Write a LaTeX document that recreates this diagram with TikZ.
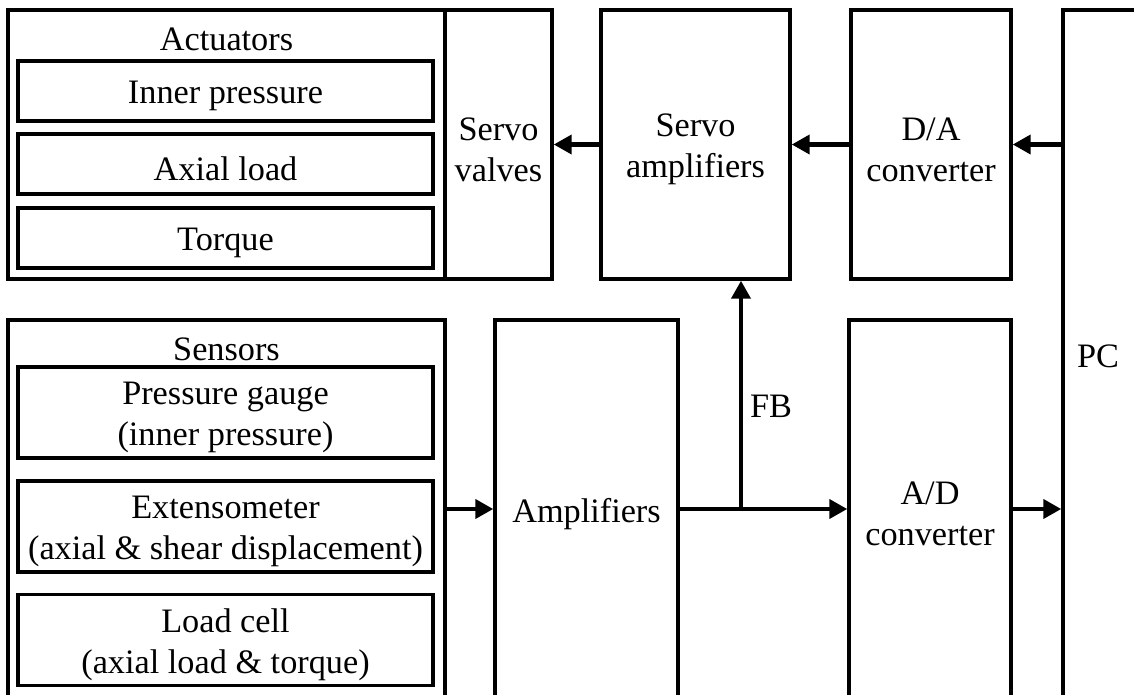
\documentclass[tikz,border=0pt]{standalone}
\usepackage{fontspec}
\setmainfont{Liberation Serif}
\usetikzlibrary{arrows.meta}

\begin{document}
\begin{tikzpicture}[x=0.02cm, y=-0.02cm,
		box/.style={draw, line width=2pt, inner sep=0pt},
		lbl/.style={inner sep=0pt, align=center},
		txt/.style={lbl, yshift=-0.1cm},
		arr/.style={line width=2.3pt, -{Triangle[length=0.36cm, width=0.38cm]}}]
			\useasboundingbox (0,0) rectangle (1134,694);
			\clip (0,0) rectangle (1134,694);
			\fontsize{19.5}{23.5}\selectfont
			% actuator side
			\node[box, minimum width=8.74cm, minimum height=5.38cm] (act) at (226.5,144.5) {};
			\node[lbl] (actlbl) at (226.5,39) {Actuators};
			\node[box, minimum width=8.3cm, minimum height=1.2cm] (ip) at (225.5,91) {};
			\node[box, minimum width=8.3cm, minimum height=1.2cm] (al) at (225.5,164) {};
			\node[box, minimum width=8.3cm, minimum height=1.2cm] (tq) at (225.5,238) {};
			\node[txt] (iptxt) at (ip) {Inner pressure};
			\node[txt] (altxt) at (al) {Axial load};
			\node[txt] (tqtxt) at (tq) {Torque};
			\node[box, minimum width=2.14cm, minimum height=5.38cm] (sv) at (498.5,144.5) {};
			\node[box, minimum width=3.78cm, minimum height=5.38cm] (sa) at (695.5,144.5) {};
			\node[box, minimum width=3.2cm, minimum height=5.38cm] (da) at (931,144.5) {};
			\node[txt] (svtxt) at (sv) {Servo\\valves};
			\node[txt] (satxt) at (sa) {Servo\\amplifiers};
			\node[txt] (datxt) at (da) {D/A\\converter};
			% PC
			\node[box, minimum width=2.74cm, minimum height=15cm] (pc) at (1131.5,385) {};
			\node[lbl] (pclbl) at (1098,356) {PC};
			% sensor side
			\node[box, minimum width=8.74cm, minimum height=7.56cm] (sens) at (226.5,509) {};
			\node[lbl] (senslbl) at (226.5,349) {Sensors};
			\node[box, minimum width=8.3cm, minimum height=1.82cm] (pg) at (225.5,412.5) {};
			\node[box, minimum width=8.3cm, minimum height=1.82cm] (ex) at (225.5,526.5) {};
			\node[box, minimum width=8.3cm, minimum height=1.82cm] (lc) at (225.5,640) {};
			\node[txt] (pgtxt) at (pg) {Pressure gauge\\(inner pressure)};
			\node[txt] (extxt) at (ex) {Extensometer\\(axial \& shear displacement)};
			\node[txt] (lctxt) at (lc) {Load cell\\(axial load \& torque)};
			\node[box, minimum width=3.66cm, minimum height=7.56cm] (amp) at (586.5,509) {};
			\node[box, minimum width=3.24cm, minimum height=7.56cm] (ad) at (930,509) {};
			\node[txt] (amptxt) at (amp) {Amplifiers};
			\node[txt] (adtxt) at (ad) {A/D\\converter};
			% signal flow
			\coordinate (fb) at (741,509);
			\draw[arr] (sens) -- (amp);
			\draw[arr] (amp) -- (ad);
			\draw[arr] (fb) -- (fb |- sa.south) node[lbl, pos=0.45, right=4pt] (fblbl) {FB};
			\draw[arr] (ad) -- (pc.west |- ad);
			\draw[arr] (pc.west |- da) -- (da);
			\draw[arr] (da) -- (sa);
			\draw[arr] (sa) -- (sv);
		\end{tikzpicture}
\end{document}
